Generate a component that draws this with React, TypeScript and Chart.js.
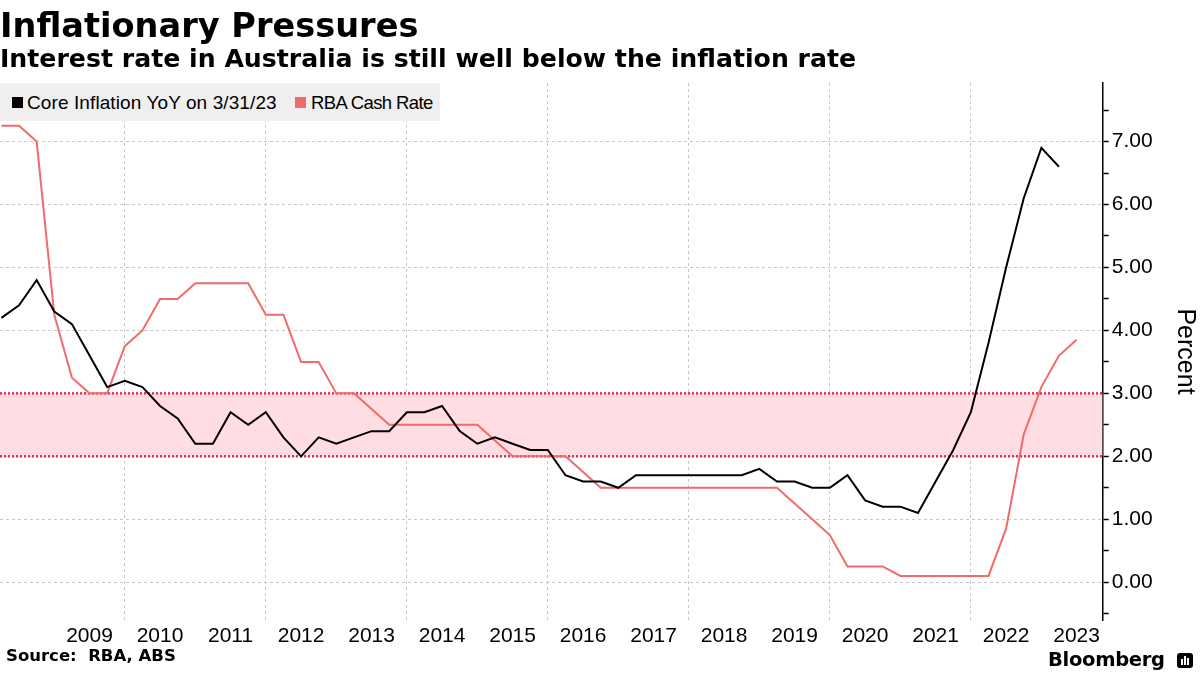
import React, { useEffect, useRef } from "react";
import { Chart, registerables } from "chart.js";

Chart.register(...registerables);

// ---- Data (quarter-end observations) ----
const quarters = [
  "2008-Q1", "2008-Q2", "2008-Q3", "2008-Q4",
  "2009-Q1", "2009-Q2", "2009-Q3", "2009-Q4",
  "2010-Q1", "2010-Q2", "2010-Q3", "2010-Q4",
  "2011-Q1", "2011-Q2", "2011-Q3", "2011-Q4",
  "2012-Q1", "2012-Q2", "2012-Q3", "2012-Q4",
  "2013-Q1", "2013-Q2", "2013-Q3", "2013-Q4",
  "2014-Q1", "2014-Q2", "2014-Q3", "2014-Q4",
  "2015-Q1", "2015-Q2", "2015-Q3", "2015-Q4",
  "2016-Q1", "2016-Q2", "2016-Q3", "2016-Q4",
  "2017-Q1", "2017-Q2", "2017-Q3", "2017-Q4",
  "2018-Q1", "2018-Q2", "2018-Q3", "2018-Q4",
  "2019-Q1", "2019-Q2", "2019-Q3", "2019-Q4",
  "2020-Q1", "2020-Q2", "2020-Q3", "2020-Q4",
  "2021-Q1", "2021-Q2", "2021-Q3", "2021-Q4",
  "2022-Q1", "2022-Q2", "2022-Q3", "2022-Q4",
  "2023-Q1", "2023-Q2",
];

const coreInflation = [
  4.2, 4.4, 4.8, 4.3, 4.1, 3.6, 3.1, 3.2, 3.1, 2.8,
  2.6, 2.2, 2.2, 2.7, 2.5, 2.7, 2.3, 2.0, 2.3, 2.2,
  2.3, 2.4, 2.4, 2.7, 2.7, 2.8, 2.4, 2.2, 2.3, 2.2,
  2.1, 2.1, 1.7, 1.6, 1.6, 1.5, 1.7, 1.7, 1.7, 1.7,
  1.7, 1.7, 1.7, 1.8, 1.6, 1.6, 1.5, 1.5, 1.7, 1.3,
  1.2, 1.2, 1.1, 1.6, 2.1, 2.7, 3.8, 5.0, 6.1, 6.9,
  6.6,
];

const cashRate = [
  7.25, 7.25, 7.0, 4.25, 3.25, 3.0, 3.0, 3.75, 4.0, 4.5,
  4.5, 4.75, 4.75, 4.75, 4.75, 4.25, 4.25, 3.5, 3.5, 3.0,
  3.0, 2.75, 2.5, 2.5, 2.5, 2.5, 2.5, 2.5, 2.25, 2.0,
  2.0, 2.0, 2.0, 1.75, 1.5, 1.5, 1.5, 1.5, 1.5, 1.5,
  1.5, 1.5, 1.5, 1.5, 1.5, 1.25, 1.0, 0.75, 0.25, 0.25,
  0.25, 0.1, 0.1, 0.1, 0.1, 0.1, 0.1, 0.85, 2.35, 3.1,
  3.6, 3.85,
];

const targetBand = [2, 3];

const xGridYears = [2010, 2012, 2014, 2016, 2018, 2020, 2022];
const xLabelYears = [
  2009, 2010, 2011, 2012, 2013, 2014, 2015, 2016,
  2017, 2018, 2019, 2020, 2021, 2022, 2023,
];
const yTickValues = [
  -0.5, 0, 0.5, 1, 1.5, 2, 2.5, 3, 3.5, 4, 4.5, 5, 5.5, 6, 6.5, 7, 7.5,
];
const xRange = [2008.23, 2023.87];
const yRange = [-0.6, 7.93];

// ---- Styles ----
const FONT = "'Liberation Sans', Arial, sans-serif";
const HEAD_FONT = "'DejaVu Sans', Verdana, sans-serif";
const RED = "#f26b6b";
const BAND_LINE = "#e62e4d";
const BAND_FILL = "#ffdde3";
const GRID = "#c8c8c8";

function quarterToYear(q: string): number {
  const [y, n] = q.split("-Q");
  return Number(y) + Number(n) * 0.25;
}

export default function App() {
  const canvasRef = useRef<HTMLCanvasElement | null>(null);

  useEffect(() => {
    const canvas = canvasRef.current;
    if (!canvas) return;

    const inflationPts = coreInflation.map((v, i) => ({ x: quarterToYear(quarters[i]), y: v }));
    const cashPts = cashRate.map((v, i) => ({ x: quarterToYear(quarters[i]), y: v }));

    const chart = new Chart(canvas, {
      type: "line",
      data: {
        datasets: [
          {
            label: "Core Inflation YoY on 3/31/23",
            data: inflationPts,
            borderColor: "#000000",
            borderWidth: 2,
            pointRadius: 0,
            tension: 0,
            fill: false,
            order: 0,
          },
          {
            label: "RBA Cash Rate",
            data: cashPts,
            borderColor: RED,
            borderWidth: 2,
            pointRadius: 0,
            tension: 0,
            fill: false,
            order: 1,
          },
          {
            label: "band-upper",
            data: [
              { x: xRange[0], y: targetBand[1] },
              { x: xRange[1], y: targetBand[1] },
            ],
            borderColor: BAND_LINE,
            borderWidth: 2.5,
            borderDash: [2, 2],
            pointRadius: 0,
            fill: false,
            order: 2,
          },
          {
            label: "band-lower",
            data: [
              { x: xRange[0], y: targetBand[0] },
              { x: xRange[1], y: targetBand[0] },
            ],
            borderColor: BAND_LINE,
            borderWidth: 2.5,
            borderDash: [2, 2],
            pointRadius: 0,
            fill: "-1",
            backgroundColor: BAND_FILL,
            order: 3,
          },
        ],
      },
      options: {
        responsive: false,
        animation: false,
        layout: { padding: { top: 83, left: 0, right: 0, bottom: 0 } },
        plugins: {
          legend: { display: false },
          tooltip: { enabled: false },
        },
        scales: {
          x: {
            type: "linear",
            min: xRange[0],
            max: xRange[1],
            afterBuildTicks: (s: any) => {
              s.ticks = [
                ...xGridYears.map((v) => ({ value: v })),
                ...xLabelYears.map((v) => ({ value: v + 0.5 })),
              ].sort((a, b) => a.value - b.value);
            },
            afterFit: (s: any) => {
              s.height = 55;
            },
            grid: {
              color: (ctx: any) =>
                ctx.tick && Number.isInteger(ctx.tick.value) ? GRID : "rgba(0,0,0,0)",
              lineWidth: 1,
              drawTicks: false,
            },
            border: { display: false, dash: [3, 3] },
            ticks: {
              autoSkip: false,
              maxRotation: 0,
              minRotation: 0,
              padding: 4,
              color: "#000",
              font: { family: FONT, size: 21 },
              callback: (v: any) =>
                Number.isInteger(Number(v)) ? "" : String(Math.floor(Number(v))),
            },
          },
          y: {
            type: "linear",
            position: "right",
            min: yRange[0],
            max: yRange[1],
            afterBuildTicks: (s: any) => {
              s.ticks = yTickValues.map((v) => ({ value: v }));
            },
            afterFit: (s: any) => {
              s.width = 97.3;
            },
            grid: {
              color: (ctx: any) =>
                ctx.tick && Number.isInteger(ctx.tick.value) ? GRID : "rgba(0,0,0,0)",
              lineWidth: 1,
              drawTicks: true,
              tickLength: 6,
              tickColor: "#000",
              tickWidth: 1.5,
            },
            border: { display: true, color: "#000", width: 1.5, dash: [3, 3] },
            ticks: {
              autoSkip: false,
              padding: 3,
              color: "#000",
              font: { family: FONT, size: 21 },
              callback: (v: any) =>
                Number.isInteger(Number(v)) ? Number(v).toFixed(2) : "",
            },
            title: {
              display: true,
              text: "Percent",
              color: "#000",
              font: { family: FONT, size: 25 },
              padding: 0,
            },
          },
        },
      } as any,
    });

    return () => chart.destroy();
  }, []);

  return (
    <div
      style={{
        position: "absolute",
        left: 0,
        top: 0,
        width: 1200,
        height: 675,
        background: "#ffffff",
        overflow: "hidden",
      }}
    >
      <canvas
        ref={canvasRef}
        width={1200}
        height={675}
        style={{ position: "absolute", left: 0, top: 0, width: 1200, height: 675 }}
      />
      <div
        style={{
          position: "absolute",
          left: 0,
          top: 8.5,
          fontFamily: HEAD_FONT,
          fontWeight: "bold",
          fontSize: 33.6,
          lineHeight: "33.6px",
          color: "#000",
          whiteSpace: "nowrap",
        }}
      >
        Inflationary Pressures
      </div>
      <div
        style={{
          position: "absolute",
          left: 0,
          top: 46,
          fontFamily: HEAD_FONT,
          fontWeight: "bold",
          fontSize: 25.2,
          lineHeight: "25.2px",
          color: "#000",
          whiteSpace: "nowrap",
        }}
      >
        Interest rate in Australia is still well below the inflation rate
      </div>

      {/* Legend */}
      <div
        style={{
          position: "absolute",
          left: 0,
          top: 83,
          width: 440,
          height: 38,
          background: "#efefef",
        }}
      >
        <div style={{ position: "absolute", left: 12, top: 14, width: 11, height: 11, background: "#000" }} />
        <div
          style={{
            position: "absolute",
            left: 27,
            top: 10.2,
            fontFamily: FONT,
            fontSize: 19,
            lineHeight: "19px",
            color: "#000",
            whiteSpace: "nowrap",
            letterSpacing: 0.1,
          }}
        >
          Core Inflation YoY on 3/31/23
        </div>
        <div style={{ position: "absolute", left: 295, top: 14, width: 11, height: 11, background: RED }} />
        <div
          style={{
            position: "absolute",
            left: 311,
            top: 10.6,
            fontFamily: FONT,
            fontSize: 18.5,
            lineHeight: "18.5px",
            color: "#000",
            whiteSpace: "nowrap",
            letterSpacing: -0.6,
          }}
        >
          RBA Cash Rate
        </div>
      </div>

      {/* Footer */}
      <div
        style={{
          position: "absolute",
          left: 6,
          top: 648,
          fontFamily: HEAD_FONT,
          fontWeight: "bold",
          fontSize: 16.5,
          lineHeight: "16.5px",
          color: "#000",
          whiteSpace: "pre",
        }}
      >
        {"Source:  RBA, ABS"}
      </div>
      <div
        style={{
          position: "absolute",
          left: 1048,
          top: 649.5,
          fontFamily: HEAD_FONT,
          fontWeight: "bold",
          fontSize: 19.5,
          lineHeight: "19.5px",
          color: "#000",
          whiteSpace: "nowrap",
          letterSpacing: -0.3,
        }}
      >
        Bloomberg
      </div>
      <div
        style={{
          position: "absolute",
          left: 1177,
          top: 653,
          width: 16,
          height: 15,
          background: "#000",
          borderRadius: 3,
        }}
      >
        <div style={{ position: "absolute", left: 4, top: 6, width: 2, height: 6, background: "#fff" }} />
        <div style={{ position: "absolute", left: 7, top: 3, width: 2, height: 9, background: "#fff" }} />
        <div style={{ position: "absolute", left: 10, top: 5, width: 2, height: 7, background: "#fff" }} />
      </div>
    </div>
  );
}
